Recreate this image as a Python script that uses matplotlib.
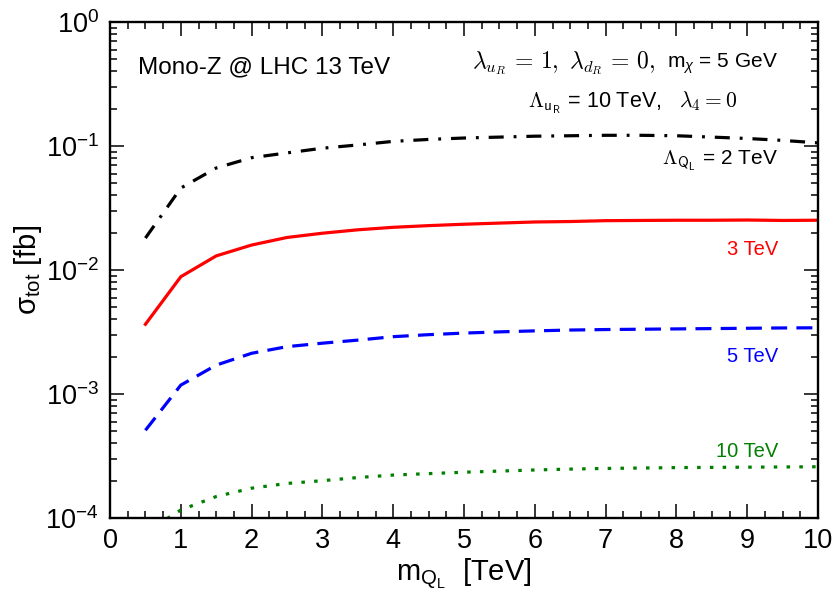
import matplotlib
matplotlib.use("Agg")
import matplotlib.pyplot as plt
from matplotlib.ticker import MultipleLocator, LogLocator, NullFormatter

plt.rcParams['font.family'] = ['Liberation Sans', 'DejaVu Sans']
plt.rcParams['mathtext.fontset'] = 'custom'
plt.rcParams['mathtext.rm'] = 'Liberation Sans'
plt.rcParams['mathtext.it'] = 'Liberation Sans:italic'
plt.rcParams['mathtext.sf'] = 'Liberation Sans'

# mass of the mediator [TeV]
m_q = [0.5, 1.0, 1.5, 2.0, 2.5, 3.0, 3.5, 4.0, 4.5, 5.0,
       5.5, 6.0, 6.5, 7.0, 7.5, 8.0, 8.5, 9.0, 9.5, 10.0]

# sigma_tot [fb] for Lambda_QL = 2, 3, 5, 10 TeV
sig_2tev = [0.0181, 0.0458, 0.0665, 0.0805, 0.088, 0.096, 0.102, 0.109, 0.113, 0.116,
            0.118, 0.120, 0.121, 0.122, 0.122, 0.121, 0.118, 0.115, 0.111, 0.106]
sig_3tev = [0.00365, 0.00883, 0.0130, 0.0159, 0.0183, 0.0198, 0.0211, 0.0221, 0.0228, 0.0234,
            0.0239, 0.0244, 0.0246, 0.0250, 0.0251, 0.0252, 0.0252, 0.0253, 0.0251, 0.0252]
sig_5tev = [5.1e-4, 1.18e-3, 1.71e-3, 2.13e-3, 2.41e-3, 2.57e-3, 2.72e-3, 2.90e-3, 3.01e-3, 3.10e-3,
            3.17e-3, 3.23e-3, 3.28e-3, 3.31e-3, 3.33e-3, 3.35e-3, 3.37e-3, 3.39e-3, 3.41e-3, 3.42e-3]
sig_10tev = [7.7e-5, 1.16e-4, 1.49e-4, 1.74e-4, 1.90e-4, 2.0e-4, 2.12e-4, 2.22e-4, 2.28e-4, 2.34e-4,
             2.39e-4, 2.44e-4, 2.48e-4, 2.51e-4, 2.53e-4, 2.55e-4, 2.56e-4, 2.57e-4, 2.58e-4, 2.59e-4]

fig = plt.figure(figsize=(8.36, 5.95), dpi=100)
ax = fig.add_axes([0.1316, 0.1294, 0.8469, 0.8336])

lw = 2.3
ax.plot(m_q, sig_2tev, color='black', lw=lw, dashes=(4.7, 3.1, 0.9, 3.1))
ax.plot(m_q, sig_3tev, color='red', lw=lw)
ax.plot(m_q, sig_5tev, color='blue', lw=lw, dashes=(5.0, 2.9))
ax.plot(m_q, sig_10tev, color='green', lw=lw, dashes=(1.1, 2.9))

ax.set_yscale('log')
ax.set_xlim(0, 10)
ax.set_ylim(1e-4, 1)

ax.xaxis.set_major_locator(MultipleLocator(1))
ax.xaxis.set_minor_locator(MultipleLocator(0.25))
ax.yaxis.set_major_locator(LogLocator(base=10, numticks=10))
ax.yaxis.set_minor_locator(LogLocator(base=10, subs=range(2, 10), numticks=10))
ax.yaxis.set_minor_formatter(NullFormatter())

ax.tick_params(which='both', direction='in', top=True, right=True, width=1.1)
ax.tick_params(which='major', length=10, labelsize=19.5)
ax.tick_params(which='minor', length=5)
ax.tick_params(axis='x', pad=7)
ax.tick_params(axis='y', pad=8)
for s in ax.spines.values():
    s.set_linewidth(1.7)

ax.set_xlabel(r'm$_{\mathrm{Q}_{\mathrm{L}}}$  [TeV]', fontsize=21, labelpad=2)
ax.set_ylabel(r'σ$_{\mathrm{tot}}$ [fb]', fontsize=21, labelpad=1)

ax.text(0.0395, 0.897, 'Mono-Z @ LHC 13 TeV', transform=ax.transAxes,
        fontsize=17.5, ha='left', va='baseline')
ax.text(0.511, 0.907, r'$\lambda_{u_R}\,=\,1,\ \lambda_{d_R}\,=\,0,$',
        transform=ax.transAxes, fontsize=17, ha='left', va='baseline', math_fontfamily='cm')
ax.text(0.9435, 0.907, r'm$_\chi$ = 5 GeV',
        transform=ax.transAxes, fontsize=15, ha='right', va='baseline')
ax.text(0.885, 0.827, r'$\Lambda_{\mathsf{u_R}}$ = 10 TeV,   $\lambda_4=0$',
        transform=ax.transAxes, fontsize=15.5, ha='right', va='baseline', math_fontfamily='cm')
ax.text(0.9435, 0.712, r'$\Lambda_{\mathsf{Q_L}}$ = 2 TeV', transform=ax.transAxes,
        fontsize=15, ha='right', va='baseline', math_fontfamily='cm')
ax.text(0.9435, 0.530, '3 TeV', transform=ax.transAxes, fontsize=14.5,
        ha='right', va='baseline', color='red')
ax.text(0.9435, 0.3145, '5 TeV', transform=ax.transAxes, fontsize=14.5,
        ha='right', va='baseline', color='blue')
ax.text(0.9435, 0.123, '10 TeV', transform=ax.transAxes, fontsize=14.5,
        ha='right', va='baseline', color='green')

fig.savefig('out.png', dpi=100)
